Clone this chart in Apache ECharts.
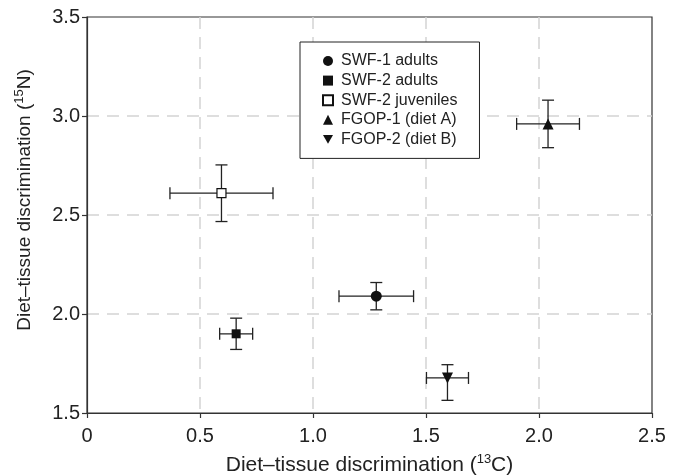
<!DOCTYPE html>
<html>
<head>
<meta charset="utf-8">
<script src="https://cdn.jsdelivr.net/npm/echarts@6/dist/echarts.min.js"></script>
<style>
html,body{margin:0;padding:0;background:#fff;}
#chart{width:681px;height:476px;}
</style>
</head>
<body>
<div id="chart"></div>
<script>
var seriesNames = ['SWF-1 adults', 'SWF-2 adults', 'SWF-2 juveniles', 'FGOP-1 (diet A)', 'FGOP-2 (diet B)'];
var xMean = [1.28, 0.66, 0.595, 2.04, 1.595];
var yMean = [2.09, 1.90, 2.61, 2.96, 1.677];
var xErr = [0.165, 0.073, 0.228, 0.139, 0.093];
var yErrLow = [0.069, 0.079, 0.143, 0.12, 0.113];
var yErrHigh = [0.069, 0.079, 0.143, 0.12, 0.067];
var xTicks = [0, 0.5, 1.0, 1.5, 2.0, 2.5];
var yTicks = [1.5, 2.0, 2.5, 3.0, 3.5];

var symbols = ['circle', 'rect', 'rect', 'triangle', 'triangle'];
var symbolSizes = [11, 9, 9, 11, 11];
var symbolRotates = [0, 0, 0, 0, 180];
var fills = ['#111', '#111', '#fff', '#111', '#111'];
var legendIcons = ['circle', 'rect', 'rect', 'triangle', 'path://M0,0L10,0L5,8.66Z'];

var FONT = '"Liberation Sans", Arial, Helvetica, sans-serif';
var INK = '#222';

var errData = xMean.map(function (x, i) {
  return [x, yMean[i], xErr[i], yErrLow[i], yErrHigh[i]];
});

var series = [{
  type: 'custom',
  name: 'errors',
  z: 1,
  silent: true,
  data: errData,
  renderItem: function (params, api) {
    var x = api.value(0), y = api.value(1), xe = api.value(2), yl = api.value(3), yh = api.value(4);
    var L = api.coord([x - xe, y]), R = api.coord([x + xe, y]);
    var T = api.coord([x, y + yh]), B = api.coord([x, y - yl]);
    var cap = 6;
    var st = { stroke: INK, lineWidth: 1.3 };
    var lines = [
      [L[0], L[1], R[0], R[1]],
      [L[0], L[1] - cap, L[0], L[1] + cap],
      [R[0], R[1] - cap, R[0], R[1] + cap],
      [T[0], T[1], B[0], B[1]],
      [T[0] - cap, T[1], T[0] + cap, T[1]],
      [B[0] - cap, B[1], B[0] + cap, B[1]]
    ];
    return {
      type: 'group',
      children: lines.map(function (l) {
        return { type: 'line', shape: { x1: l[0], y1: l[1], x2: l[2], y2: l[3] }, style: st };
      })
    };
  }
}];

seriesNames.forEach(function (n, i) {
  series.push({
    type: 'scatter',
    name: n,
    z: 5,
    symbol: symbols[i],
    symbolSize: symbolSizes[i],
    symbolRotate: symbolRotates[i],
    itemStyle: { color: fills[i], borderColor: '#111', borderWidth: i === 2 ? 1.2 : 0, opacity: 1 },
    data: [[xMean[i], yMean[i]]]
  });
});

function nameStyle(size, pad) {
  return {
    fontFamily: FONT, fontSize: size, color: INK, lineHeight: 24, padding: pad,
    rich: { sup: { fontSize: 13, lineHeight: 13, verticalAlign: 'top', color: INK, fontFamily: FONT } }
  };
}

var chart = echarts.init(document.getElementById('chart'), null, { renderer: 'canvas' });
chart.setOption({
  animation: false,
  backgroundColor: '#fff',
  textStyle: { fontFamily: FONT },
  grid: { left: 87, right: 29, top: 17, bottom: 63, outerBoundsMode: 'none', containLabel: false, show: true, borderColor: '#333', borderWidth: 1.2, backgroundColor: 'transparent' },
  legend: {
    orient: 'vertical',
    left: 300,
    top: 42,
    data: seriesNames.map(function (n, i) { return { name: n, icon: legendIcons[i] }; }),
    padding: [10, 22, 10, 22],
    itemWidth: 10,
    itemHeight: 10,
    itemGap: 1.6,
    borderColor: '#222',
    borderWidth: 1,
    backgroundColor: '#fff',
    textStyle: { fontFamily: FONT, fontSize: 16, color: INK, lineHeight: 18, padding: [0, 0, 0, 3] }
  },
  xAxis: {
    type: 'value',
    min: 0, max: 2.5, interval: 0.5,
    name: 'Diet–tissue discrimination ({sup|13}C)',
    nameLocation: 'middle',
    nameGap: 40,
    nameTextStyle: nameStyle(21, 0),
    axisLine: { show: true, lineStyle: { color: '#333', width: 1.2 } },
    axisTick: { show: true, inside: false, length: 5, lineStyle: { color: '#333', width: 1.2 } },
    axisLabel: {
      margin: 13, fontSize: 20, color: INK, fontFamily: FONT,
      formatter: function (v) { return v === 0 ? '0' : v.toFixed(1); }
    },
    splitLine: { show: true, showMinLine: false, showMaxLine: false, lineStyle: { color: '#d3d3d3', width: 1.5, type: [12, 8] } }
  },
  yAxis: {
    type: 'value',
    min: 1.5, max: 3.5, interval: 0.5,
    name: 'Diet–tissue discrimination ({sup|15}N)',
    nameLocation: 'middle',
    nameGap: 50,
    nameTextStyle: nameStyle(19, [0, 0, 0, 30]),
    axisLine: { show: true, lineStyle: { color: '#333', width: 1.2 } },
    axisTick: { show: true, inside: false, length: 5, lineStyle: { color: '#333', width: 1.2 } },
    axisLabel: {
      margin: 7, fontSize: 20, color: INK, fontFamily: FONT,
      formatter: function (v) { return v.toFixed(1); }
    },
    splitLine: { show: true, showMinLine: false, showMaxLine: false, lineStyle: { color: '#d3d3d3', width: 1.5, type: [12, 8] } }
  },
  series: series
});
</script>
</body>
</html>
